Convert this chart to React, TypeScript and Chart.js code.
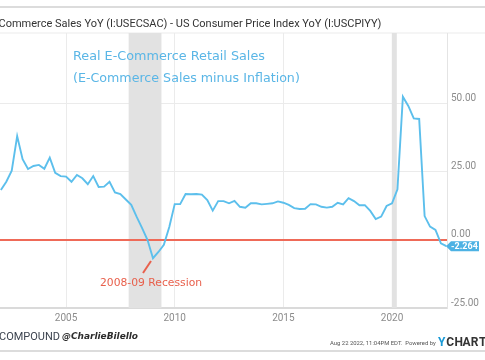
import React, { useEffect, useRef } from "react";
import { Chart, registerables } from "chart.js";
Chart.register(...registerables);

const quarters = (
  "2001Q4 " +
  "2002Q1 2002Q2 2002Q3 2002Q4 2003Q1 2003Q2 2003Q3 2003Q4 2004Q1 2004Q2 2004Q3 2004Q4 " +
  "2005Q1 2005Q2 2005Q3 2005Q4 2006Q1 2006Q2 2006Q3 2006Q4 2007Q1 2007Q2 2007Q3 2007Q4 " +
  "2008Q1 2008Q2 2008Q3 2008Q4 2009Q1 2009Q2 2009Q3 2009Q4 2010Q1 2010Q2 2010Q3 2010Q4 " +
  "2011Q1 2011Q2 2011Q3 2011Q4 2012Q1 2012Q2 2012Q3 2012Q4 2013Q1 2013Q2 2013Q3 2013Q4 " +
  "2014Q1 2014Q2 2014Q3 2014Q4 2015Q1 2015Q2 2015Q3 2015Q4 2016Q1 2016Q2 2016Q3 2016Q4 " +
  "2017Q1 2017Q2 2017Q3 2017Q4 2018Q1 2018Q2 2018Q3 2018Q4 2019Q1 2019Q2 2019Q3 2019Q4 " +
  "2020Q1 2020Q2 2020Q3 2020Q4 2021Q1 2021Q2 2021Q3 2021Q4 2022Q1 2022Q2"
).split(" ");

const realEcommerceSales = [
  18.4, 21.4, 25.5, 38.2, 29.7, 26.1, 27.2, 27.6, 26.2, 30.3,
  24.7, 23.5, 23.3, 21.4, 23.9, 22.7, 20.5, 23.5, 19.5, 19.6,
  21.4, 17.5, 16.9, 14.9, 12.9, 8.5, 4.4, 0.0, -6.7, -4.4,
  -1.8, 4.8, 13.2, 13.2, 16.9, 16.8, 16.9, 16.7, 14.7, 10.8,
  14.3, 14.3, 13.5, 14.4, 12.2, 11.9, 13.5, 13.5, 13.1, 13.3,
  13.5, 14.2, 13.7, 12.9, 11.7, 11.4, 11.5, 13.2, 13.1, 12.2,
  11.9, 12.2, 13.7, 13.1, 15.4, 14.3, 12.8, 12.8, 10.7, 7.7,
  8.6, 12.5, 13.5, 18.6, 52.7, 49.3, 44.7, 44.5, 8.8, 4.9,
  3.7, -1.2, -2.264,
];

const xTicks = [2005, 2010, 2015, 2020];
const yTicks = [-25, 0, 25, 50];
const recessions = [
  [2007.88, 2009.39],
  [2019.99, 2020.22],
];
const X_MIN = 2001.96;
const X_MAX = 2022.53;
const Y_MIN = -25;
const Y_MAX = 76.1;

const LINE = "#5cbfec";
const RED = "#ef6a58";
const W = 485;
const H = 360;

function qToYear(q: string) {
  const y = parseInt(q.slice(0, 4), 10);
  const n = parseInt(q.slice(5), 10);
  return y + n * 0.25;
}

function fitFont(ctx: CanvasRenderingContext2D, text: string, width: number, style: string, family: string) {
  ctx.font = `${style} 100px ${family}`;
  const w = ctx.measureText(text).width;
  const size = (100 * width) / w;
  return `${style} ${size.toFixed(2)}px ${family}`;
}

const decorPlugin = {
  id: "decor",
  beforeDraw(chart: any) {
    const ctx = chart.ctx as CanvasRenderingContext2D;
    ctx.save();
    ctx.fillStyle = "#fff";
    ctx.fillRect(0, 0, W, H);
    ctx.fillStyle = "#dcdcdc";
    ctx.fillRect(0, 6, W, 2);
    ctx.fillStyle = "#ececec";
    ctx.fillRect(0, 32.5, W, 1);
    ctx.fillStyle = "#333";
    ctx.font = "11px Roboto";
    ctx.textBaseline = "middle";
    const pre = "US E-";
    const preW = ctx.measureText(pre).width;
    ctx.fillText(
      "US E-Commerce Sales YoY (I:USECSAC) - US Consumer Price Index YoY (I:USCPIYY)",
      -1.5 - preW,
      24
    );
    ctx.fillStyle = "#dcdcdc";
    ctx.fillRect(0, 350, W, 2);
    ctx.restore();
  },
  beforeDatasetsDraw(chart: any) {
    const ctx = chart.ctx as CanvasRenderingContext2D;
    const xs = chart.scales.x;
    const area = chart.chartArea;
    ctx.save();
    ctx.fillStyle = "#e2e2e2";
    for (const [a, b] of recessions) {
      const x1 = xs.getPixelForValue(a);
      const x2 = xs.getPixelForValue(b);
      ctx.fillRect(x1, area.top, x2 - x1, area.bottom - area.top);
    }
    ctx.restore();
  },
  afterDraw(chart: any) {
    const ctx = chart.ctx as CanvasRenderingContext2D;
    const ys = chart.scales.y;
    const area = chart.chartArea;
    ctx.save();
    ctx.textBaseline = "middle";
    ctx.textAlign = "left";
    ctx.fillStyle = "#5ab6e6";
    const t1 = "Real E-Commerce Retail Sales";
    ctx.font = fitFont(ctx, t1, 192, "normal", "'DejaVu Sans'");
    ctx.fillText(t1, 73, 57);
    const t2 = "(E-Commerce Sales minus Inflation)";
    ctx.font = fitFont(ctx, t2, 227, "normal", "'DejaVu Sans'");
    ctx.fillText(t2, 73, 79);

    ctx.fillStyle = "#e8604c";
    const t3 = "2008-09 Recession";
    ctx.font = fitFont(ctx, t3, 102, "normal", "'DejaVu Sans'");
    ctx.fillText(t3, 100, 283);
    ctx.strokeStyle = "#e8604c";
    ctx.lineWidth = 2;
    ctx.beginPath();
    ctx.moveTo(143, 273);
    ctx.lineTo(151, 261);
    ctx.stroke();

    const last = realEcommerceSales[realEcommerceSales.length - 1];
    const ly = ys.getPixelForValue(last);
    const lx = area.right;
    ctx.fillStyle = "#4db2e4";
    ctx.beginPath();
    ctx.moveTo(lx - 1, ly);
    ctx.lineTo(lx + 4, ly - 5);
    ctx.lineTo(lx + 32, ly - 5);
    ctx.lineTo(lx + 32, ly + 5);
    ctx.lineTo(lx + 4, ly + 5);
    ctx.closePath();
    ctx.fill();
    ctx.fillStyle = "#fff";
    ctx.font = "bold 9px Roboto";
    ctx.fillText(last.toFixed(3), lx + 4, ly + 0.5);

    ctx.fillStyle = "#3d4450";
    ctx.font = fitFont(ctx, "COMPOUND", 61, "normal", "Roboto");
    ctx.fillText("COMPOUND", -1, 337);
    ctx.fillStyle = "#2b2b2b";
    ctx.font = fitFont(ctx, "@CharlieBilello", 76, "italic bold", "'DejaVu Sans'");
    ctx.fillText("@CharlieBilello", 62, 337);

    ctx.fillStyle = "#555";
    const f1 = "Aug 22 2022, 11:04PM EDT.  Powered by";
    ctx.font = fitFont(ctx, f1, 106, "normal", "Roboto");
    ctx.fillText(f1, 330, 344);
    ctx.font = "bold 12px Roboto";
    const brand = "YCHARTS";
    for (let i = 0; i < brand.length; i++) {
      ctx.fillStyle = i === 0 ? "#1a9ad6" : "#333";
      ctx.fillText(brand[i], 438 + i * 8.2, 343);
    }
    ctx.restore();
  },
};

export default function App() {
  const ref = useRef<HTMLCanvasElement | null>(null);
  useEffect(() => {
    document.body.style.margin = "0";
    const canvas = ref.current;
    if (!canvas) return;
    const points = quarters.map((q, i) => ({ x: qToYear(q), y: realEcommerceSales[i] }));
    const chart = new Chart(canvas, {
      type: "line",
      data: {
        datasets: [
          {
            data: points,
            borderColor: LINE,
            borderWidth: 1.9,
            pointRadius: 0,
            tension: 0,
            order: 1,
          },
          {
            data: [
              { x: X_MIN, y: 0 },
              { x: X_MAX, y: 0 },
            ],
            borderColor: RED,
            borderWidth: 2,
            pointRadius: 0,
            order: 2,
          },
        ],
      },
      options: {
        animation: false,
        responsive: false,
        events: [],
        layout: { padding: { top: 33, left: 0, right: 0, bottom: 0 } },
        plugins: { legend: { display: false }, tooltip: { enabled: false } },
        scales: {
          x: {
            type: "linear",
            min: X_MIN,
            max: X_MAX,
            afterBuildTicks: (s: any) => {
              s.ticks = xTicks.map((v) => ({ value: v }));
            },
            afterFit: (s: any) => {
              s.height = 52;
            },
            grid: { color: "#ebebeb", lineWidth: 1, drawTicks: false },
            border: { display: true, color: "#dadada", width: 2 },
            ticks: {
              color: "#8c8c8c",
              font: { family: "Roboto", size: 10 },
              padding: 4,
              maxRotation: 0,
              callback: (v: any) => String(v),
            },
          },
          y: {
            position: "right",
            min: Y_MIN,
            max: Y_MAX,
            afterBuildTicks: (s: any) => {
              s.ticks = yTicks.map((v) => ({ value: v }));
            },
            afterFit: (s: any) => {
              s.width = 38;
            },
            grid: { color: "#ebebeb", lineWidth: 1, drawTicks: false },
            border: { display: true, color: "#e4e4e4", width: 1 },
            ticks: {
              color: "#8c8c8c",
              font: { family: "Roboto", size: 10 },
              padding: 4,
              labelOffset: -5,
              callback: (v: any) => Number(v).toFixed(2),
            },
          },
        },
      },
      plugins: [decorPlugin],
    } as any);
    return () => chart.destroy();
  }, []);
  return (
    <div style={{ position: "fixed", left: 0, top: 0, width: W, height: H }}>
      <canvas ref={ref} width={W} height={H} style={{ width: W, height: H, display: "block" }} />
    </div>
  );
}
